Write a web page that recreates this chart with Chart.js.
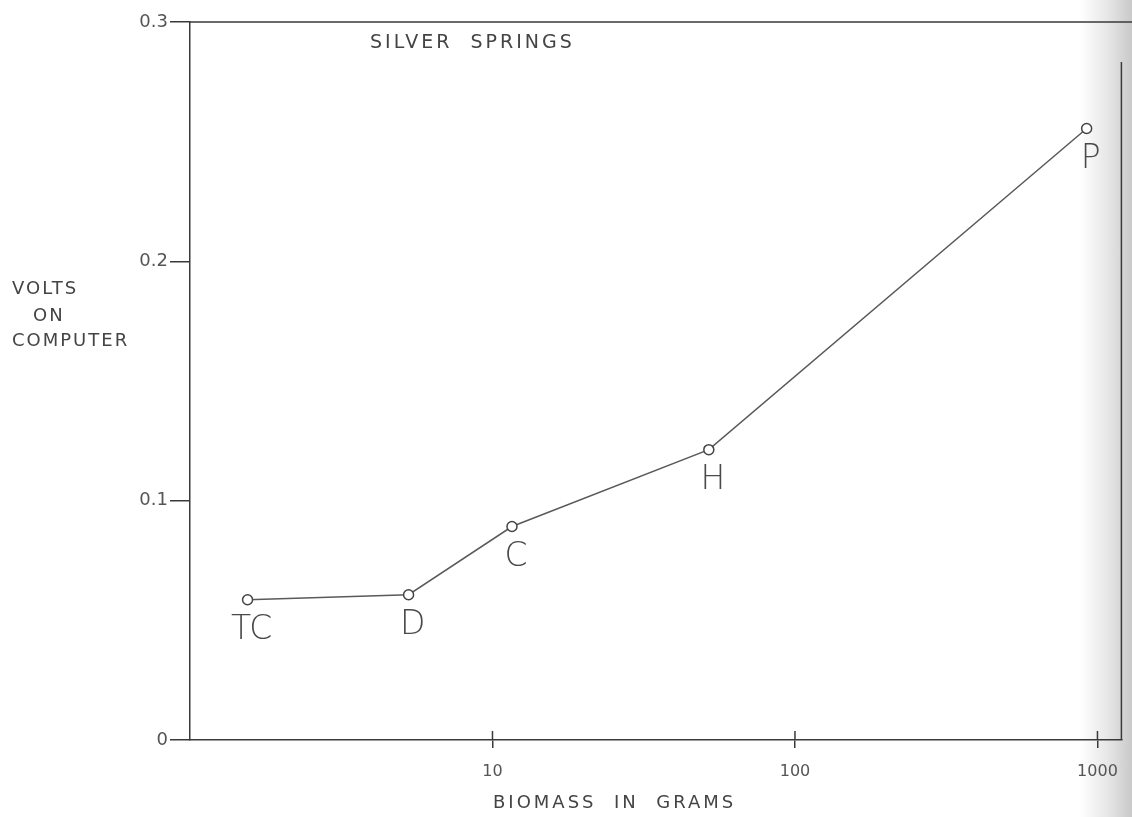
<!DOCTYPE html>
<html>
<head>
<meta charset="utf-8">
<script src="https://cdn.jsdelivr.net/npm/chart.js@4"></script>
<style>
  html, body { margin: 0; padding: 0; }
  body {
    width: 1132px; height: 817px; overflow: hidden;
    background: linear-gradient(to right, #fff 0, #fff 1080px, #e6e6e6 1108px, #c9c9c9 1132px);
  }
  #wrap { width: 1132px; height: 817px; position: relative; }
</style>
</head>
<body>
<div id="wrap"><canvas id="biomassChart"></canvas></div>
<script>
// Silver Springs - volts on computer against biomass (log scale)
var pointLabels = ['TC', 'D', 'C', 'H', 'P'];
var biomassGrams = [1.55, 5.28, 11.6, 51.9, 921];
var voltsOnComputer = [0.0586, 0.0607, 0.0892, 0.1213, 0.2555];
var xTickValues = [10, 100, 1000];
var yTickValues = [0, 0.1, 0.2, 0.3];
var yTitleLines = ['VOLTS', 'ON', 'COMPUTER'];
var xTitle = 'BIOMASS  IN  GRAMS';
var chartTitle = 'SILVER  SPRINGS';

var ink = '#3a3a3a';
var fontName = "'DejaVu Sans', sans-serif";

var points = [];
for (var i = 0; i < biomassGrams.length; i++) {
    points[i] = { x: biomassGrams[i], y: voltsOnComputer[i] };
}

// draws the frame, inner tick marks, point letters and the hand lettered titles
var paperPlugin = {
    id: 'paper',
    afterDraw: function(chart) {
        var ctx = chart.ctx;
        var area = chart.chartArea;
        var xs = chart.scales.x;
        ctx.save();
        ctx.strokeStyle = ink;
        ctx.lineWidth = 1.5;
        ctx.beginPath();
        ctx.moveTo(area.left, area.top);
        ctx.lineTo(chart.width, area.top);
        ctx.moveTo(area.right, area.top + 40);
        ctx.lineTo(area.right, area.bottom);
        ctx.stroke();

        // x ticks cross the axis
        ctx.beginPath();
        xTickValues.forEach(function(v) {
            var px = xs.getPixelForValue(v);
            ctx.moveTo(px, area.bottom - 9);
            ctx.lineTo(px, area.bottom);
        });
        ctx.stroke();

        // point letters
        var meta = chart.getDatasetMeta(0);
        ctx.fillStyle = '#4a4a4a';
        ctx.font = '200 33px ' + fontName;
        ctx.textAlign = 'center';
        ctx.textBaseline = 'middle';
        meta.data.forEach(function(pt, idx) {
            ctx.fillText(pointLabels[idx], pt.x + 4, pt.y + 31);
        });

        // titles
        ctx.fillStyle = '#444';
        ctx.textAlign = 'left';
        ctx.font = '19px ' + fontName;
        ctx.letterSpacing = '3px';
        ctx.fillText(chartTitle, 370, 43);

        ctx.font = '18px ' + fontName;
        ctx.letterSpacing = '2px';
        ctx.fillText(yTitleLines[0], 12, 289);
        ctx.fillText(yTitleLines[1], 33, 316);
        ctx.fillText(yTitleLines[2], 12, 341);

        ctx.letterSpacing = '3px';
        ctx.fillText(xTitle, 493, 803);
        ctx.restore();
    }
};

new Chart(document.getElementById('biomassChart'), {
    type: 'line',
    data: {
        datasets: [{
            label: 'Silver Springs',
            data: points,
            borderColor: '#5a5a5a',
            borderWidth: 1.5,
            pointRadius: 5,
            pointBorderWidth: 1.5,
            pointBackgroundColor: '#fff',
            pointBorderColor: '#444',
            tension: 0
        }]
    },
    plugins: [paperPlugin],
    options: {
        responsive: true,
        maintainAspectRatio: false,
        animation: false,
        layout: { padding: { top: 22, right: 7, left: 0, bottom: 0 } },
        plugins: {
            legend: { display: false },
            tooltip: { enabled: false },
            title: { display: false }
        },
        scales: {
            x: {
                type: 'logarithmic',
                min: 1,
                max: 1200,
                afterBuildTicks: function(scale) {
                    scale.ticks = xTickValues.map(function(v) { return { value: v }; });
                },
                afterFit: function(scale) { scale.height = 77; },
                ticks: {
                    callback: function(v) { return String(v); },
                    color: '#555',
                    font: { family: fontName, size: 16 },
                    padding: 14,
                    autoSkip: false,
                    maxRotation: 0
                },
                grid: { drawOnChartArea: false, drawTicks: true, tickLength: 8, color: ink, lineWidth: 1.5 },
                border: { color: ink, width: 1.5 }
            },
            y: {
                type: 'linear',
                min: 0,
                max: 0.3,
                afterBuildTicks: function(scale) {
                    scale.ticks = yTickValues.map(function(v) { return { value: v }; });
                },
                afterFit: function(scale) { scale.width = 190; },
                ticks: {
                    callback: function(v) { return v === 0 ? '0' : v.toFixed(1); },
                    color: '#555',
                    font: { family: fontName, size: 18 },
                    padding: 2
                },
                grid: { drawOnChartArea: false, drawTicks: true, tickLength: 20, color: ink, lineWidth: 1.5 },
                border: { color: ink, width: 1.5 }
            }
        }
    }
});
</script>
</body>
</html>
